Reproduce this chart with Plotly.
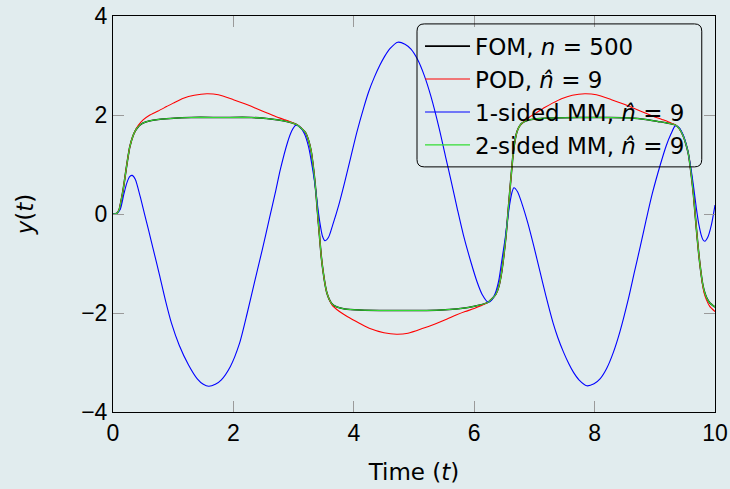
import plotly.graph_objects as go

# ---------------- data ----------------
t_fom = [0, 0.06, 0.1, 0.14, 0.17, 0.2, 0.24, 0.28, 0.33, 0.37, 0.41, 0.45, 0.5, 0.6, 0.75, 0.95,
         1.3, 1.8, 2.3, 2.55, 2.75, 2.92, 3.06, 3.13, 3.2, 3.25, 3.29, 3.33, 3.37, 3.40, 3.43, 3.46,
         3.49, 3.52, 3.55, 3.59, 3.64, 3.72, 3.85, 4.1, 4.6, 5.1, 5.45, 5.7, 5.9, 6.06, 6.22, 6.29,
         6.36, 6.41, 6.45, 6.49, 6.53, 6.56, 6.59, 6.62, 6.65, 6.68, 6.71, 6.75, 6.80, 6.88, 7.0,
         7.25, 7.75, 8.25, 8.6, 8.85, 9.05, 9.2, 9.34, 9.41, 9.47, 9.52, 9.56, 9.60, 9.64, 9.67,
         9.70, 9.73, 9.76, 9.79, 9.82, 9.86, 9.91, 10.0]
y_fom = [0, 0.01, 0.08, 0.3, 0.5, 0.75, 1.08, 1.36, 1.57, 1.68, 1.75, 1.80, 1.84, 1.88, 1.91, 1.93,
         1.95, 1.95, 1.95, 1.93, 1.90, 1.86, 1.80, 1.73, 1.64, 1.48, 1.28, 0.92, 0.45, 0.0, -0.44, -0.86,
         -1.16, -1.40, -1.58, -1.72, -1.82, -1.88, -1.92, -1.94, -1.95, -1.95, -1.94, -1.92, -1.89, -1.85, -1.79, -1.72,
         -1.62, -1.46, -1.22, -0.86, -0.42, 0.0, 0.44, 0.86, 1.25, 1.50, 1.66, 1.77, 1.84, 1.89, 1.92,
         1.94, 1.95, 1.95, 1.94, 1.91, 1.87, 1.84, 1.80, 1.72, 1.58, 1.40, 1.20, 0.85, 0.42, 0.0,
         -0.42, -0.80, -1.12, -1.38, -1.55, -1.69, -1.79, -1.88]

t_pod = [0, 0.06, 0.1, 0.14, 0.17, 0.2, 0.24, 0.28, 0.33, 0.37, 0.42, 0.5, 0.6, 0.75, 0.89, 1.0,
         1.17, 1.35, 1.56, 1.75, 2.0, 2.2, 2.4, 2.56, 2.7, 2.84, 2.95, 3.06, 3.13, 3.2, 3.25, 3.29,
         3.33, 3.37, 3.40, 3.43, 3.46, 3.49, 3.52, 3.55, 3.59, 3.64, 3.75, 3.89, 4.1, 4.28, 4.5, 4.71,
         4.9, 5.15, 5.35, 5.55, 5.7, 5.85, 6.0, 6.1, 6.22, 6.29, 6.36, 6.41, 6.45, 6.49, 6.53, 6.56,
         6.59, 6.62, 6.65, 6.68, 6.71, 6.75, 6.82, 6.92, 7.05, 7.17, 7.3, 7.45, 7.63, 7.84, 8.03,
         8.28, 8.48, 8.68, 8.84, 8.98, 9.12, 9.23, 9.34, 9.41, 9.47, 9.52, 9.56, 9.60, 9.64, 9.67,
         9.70, 9.73, 9.76, 9.79, 9.82, 9.86, 9.91, 10.0]
y_pod = [0, 0.01, 0.08, 0.3, 0.5, 0.75, 1.08, 1.36, 1.57, 1.68, 1.79, 1.90, 1.99, 2.08, 2.17, 2.24,
         2.34, 2.40, 2.43, 2.41, 2.31, 2.22, 2.12, 2.04, 1.97, 1.91, 1.86, 1.80, 1.73, 1.64, 1.48, 1.28,
         0.92, 0.45, 0.0, -0.44, -0.86, -1.16, -1.40, -1.58, -1.72, -1.84, -1.96, -2.07, -2.21, -2.32, -2.40, -2.43,
         -2.41, -2.31, -2.22, -2.12, -2.04, -1.97, -1.91, -1.86, -1.79, -1.72, -1.62, -1.46, -1.22, -0.86, -0.42, 0.0,
         0.44, 0.86, 1.25, 1.50, 1.66, 1.77, 1.86, 1.96, 2.06, 2.15, 2.24, 2.33, 2.40, 2.43, 2.41,
         2.31, 2.22, 2.12, 2.04, 1.97, 1.91, 1.86, 1.80, 1.72, 1.58, 1.40, 1.20, 0.85, 0.42, 0.0,
         -0.42, -0.80, -1.12, -1.40, -1.60, -1.74, -1.86, -1.97]

t_mm1 = [0, 0.06, 0.12, 0.18, 0.23, 0.28, 0.32, 0.37, 0.45, 0.52, 0.59, 0.67, 0.77, 0.87, 0.97, 1.1,
         1.255, 1.4, 1.5, 1.59, 1.7, 1.8, 1.95, 2.1, 2.23, 2.35, 2.48, 2.6, 2.7, 2.78, 2.9, 2.97,
         3.03, 3.1, 3.18, 3.25, 3.31, 3.36, 3.40, 3.44, 3.48, 3.52, 3.58, 3.65, 3.75, 3.85, 3.95, 4.05,
         4.17, 4.25, 4.34, 4.43, 4.51, 4.6, 4.73, 4.85, 4.95, 5.06, 5.17, 5.28, 5.42, 5.52, 5.62,
         5.72, 5.82, 5.95, 6.05, 6.13, 6.23, 6.29, 6.35, 6.41, 6.46, 6.51, 6.55, 6.59, 6.63, 6.66,
         6.72, 6.79, 6.89, 6.99, 7.09, 7.19, 7.31, 7.39, 7.48, 7.57, 7.65, 7.74, 7.87, 7.99, 8.09,
         8.2, 8.31, 8.42, 8.56, 8.66, 8.76, 8.86, 8.96, 9.09, 9.19, 9.27, 9.34, 9.40, 9.47, 9.54,
         9.60, 9.65, 9.69, 9.73, 9.77, 9.80, 9.83, 9.88, 9.94, 10.0]
y_mm1 = [0, 0.01, 0.09, 0.4, 0.63, 0.76, 0.78, 0.70, 0.36, 0.02, -0.32, -0.72, -1.22, -1.74, -2.2, -2.65,
         -3.05, -3.33, -3.44, -3.48, -3.44, -3.35, -3.08, -2.62, -2.0, -1.38, -0.72, -0.08, 0.45, 0.90, 1.45, 1.68,
         1.79, 1.76, 1.62, 1.35, 0.95, 0.55, 0.15, -0.2, -0.45, -0.54, -0.47, -0.22, 0.18, 0.65, 1.15, 1.65,
         2.17, 2.48, 2.76, 3.0, 3.18, 3.34, 3.47, 3.43, 3.33, 3.12, 2.8, 2.38, 1.72, 1.18, 0.65,
         0.1, -0.42, -0.99, -1.38, -1.62, -1.78, -1.74, -1.6, -1.33, -0.93, -0.53, -0.15, 0.2, 0.45, 0.53,
         0.45, 0.22, -0.18, -0.65, -1.15, -1.65, -2.2, -2.5, -2.78, -3.02, -3.2, -3.35, -3.47, -3.43, -3.33,
         -3.12, -2.8, -2.38, -1.72, -1.18, -0.65, -0.1, 0.42, 0.99, 1.38, 1.62, 1.78, 1.75, 1.6, 1.32,
         0.92, 0.5, 0.12, -0.2, -0.42, -0.52, -0.55, -0.47, -0.22, 0.18]

t_mm2 = t_fom
y_mm2 = y_fom

x_ticks = [0, 2, 4, 6, 8, 10]
y_ticks = [-4, -2, 0, 2, 4]

names = ["FOM, <i>n</i> = 500",
         "POD, <i>n̂</i> = 9",
         "1-sided MM, <i>n̂</i> = 9",
         "2-sided MM, <i>n̂</i> = 9"]

BG = "#e1ecee"
TICKFONT = "Liberation Sans"
TEXTFONT = "DejaVu Sans"

fig = go.Figure()
fig.add_trace(go.Scatter(x=t_fom, y=y_fom, name=names[0], mode="lines",
                         line=dict(color="black", width=1.6, shape="spline", smoothing=0.7)))
fig.add_trace(go.Scatter(x=t_pod, y=y_pod, name=names[1], mode="lines",
                         line=dict(color="#ff0000", width=1.1, shape="spline", smoothing=0.7)))
fig.add_trace(go.Scatter(x=t_mm1, y=y_mm1, name=names[2], mode="lines",
                         line=dict(color="#0000ff", width=1.1, shape="spline", smoothing=0.7)))
fig.add_trace(go.Scatter(x=t_mm2, y=y_mm2, name=names[3], mode="lines",
                         line=dict(color="#33dd33", width=1.1, shape="spline", smoothing=0.7)))

# rounded legend frame
x0, x1, y0, y1, r = 0.505, 0.978, 0.619, 0.98, 0.012
ry = r * 602 / 396
path = (f"M{x0+r},{y1} L{x1-r},{y1} Q{x1},{y1} {x1},{y1-ry} L{x1},{y0+ry} "
        f"Q{x1},{y0} {x1-r},{y0} L{x0+r},{y0} Q{x0},{y0} {x0},{y0+ry} "
        f"L{x0},{y1-ry} Q{x0},{y1} {x0+r},{y1} Z")
fig.add_shape(type="path", path=path, xref="paper", yref="paper",
              line=dict(color="black", width=1), fillcolor="rgba(0,0,0,0)")

axis_common = dict(showline=True, linecolor="black", linewidth=1, mirror="allticks",
                   ticks="inside", ticklen=11, tickcolor="#9a9a9a", tickwidth=1,
                   showgrid=False, zeroline=False, automargin=False,
                   tickfont=dict(family=TICKFONT, size=23, color="black"))

fig.update_layout(
    width=730, height=489,
    margin=dict(l=113, r=15, t=16, b=77),
    paper_bgcolor=BG, plot_bgcolor=BG,
    font=dict(family=TEXTFONT, color="black"),
    xaxis=dict(range=[0, 10], tickvals=x_ticks, title=dict(text="Time (<i>t</i>)", standoff=19,
               font=dict(family=TEXTFONT, size=23)), **axis_common),
    yaxis=dict(range=[-4, 4], tickvals=y_ticks, title=dict(text="<i>y</i>(<i>t</i>)", standoff=41,
               font=dict(family=TEXTFONT, size=23)), **axis_common),
    legend=dict(x=0.51, y=0.978, xanchor="left", yanchor="top",
                bgcolor="rgba(0,0,0,0)", borderwidth=0,
                font=dict(family=TEXTFONT, size=23, color="black"),
                tracegroupgap=0, itemwidth=45),
    showlegend=True,
)

fig.write_html("out.html", config={"displayModeBar": False},
               post_script="document.body.style.margin='0';")
